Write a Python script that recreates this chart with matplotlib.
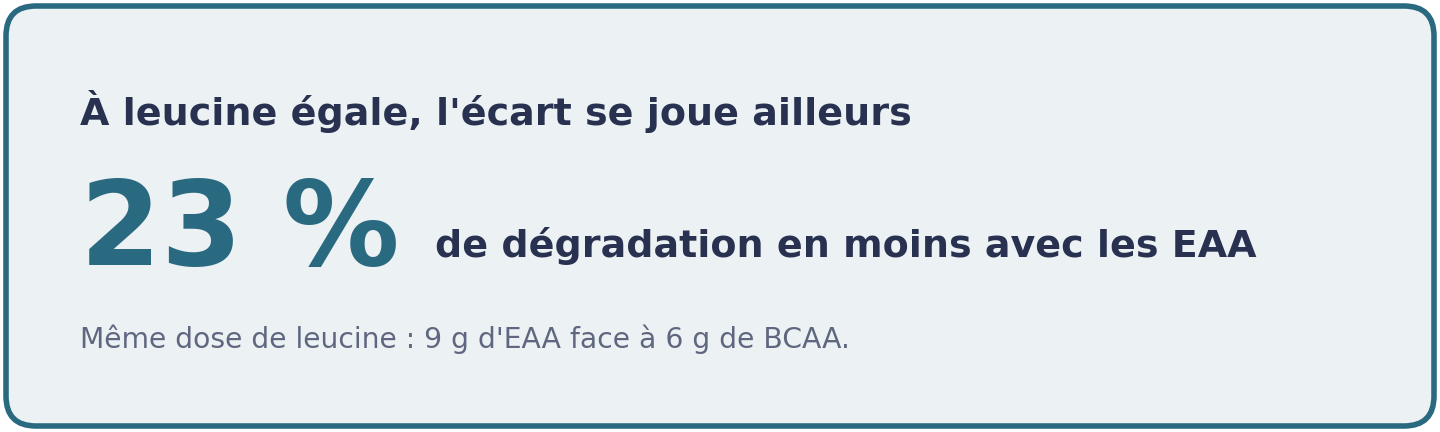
import matplotlib
matplotlib.use("Agg")
import matplotlib.pyplot as plt
from matplotlib.patches import FancyBboxPatch

plt.rcParams["font.family"] = ["DejaVu Sans"]

# card content
title = "À leucine égale, l'écart se joue ailleurs"
kpi_value = "23 %"
kpi_label = "de dégradation en moins avec les EAA"
note = "Même dose de leucine : 9 g d'EAA face à 6 g de BCAA."

teal = "#2A6A80"
navy = "#283250"
grey = "#5F6780"
card_bg = "#ECF1F4"

W, H = 1440, 432
fig = plt.figure(figsize=(W / 100, H / 100), dpi=100)
ax = fig.add_axes([0, 0, 1, 1])
ax.set_xlim(0, W)
ax.set_ylim(H, 0)
ax.axis("off")

# rounded card, outer edge ~3px from the image border
r = 30
card = FancyBboxPatch((6 + r, 6 + r), W - 12 - 2 * r, H - 12 - 2 * r,
                      boxstyle=f"round,pad={r}",
                      facecolor=card_bg, edgecolor=teal, linewidth=4)
ax.add_patch(card)

ax.text(80, 125, title, fontsize=27.4, fontweight="bold", color=navy,
        va="baseline", ha="left")
ax.text(80, 265, kpi_value, fontsize=84, fontweight="bold", color=teal,
        va="baseline", ha="left")
ax.text(435, 257, kpi_label, fontsize=27.4, fontweight="bold", color=navy,
        va="baseline", ha="left")
ax.text(80, 348, note, fontsize=20.3, color=grey, va="baseline", ha="left")

fig.savefig("out.png", dpi=100, facecolor="white")
